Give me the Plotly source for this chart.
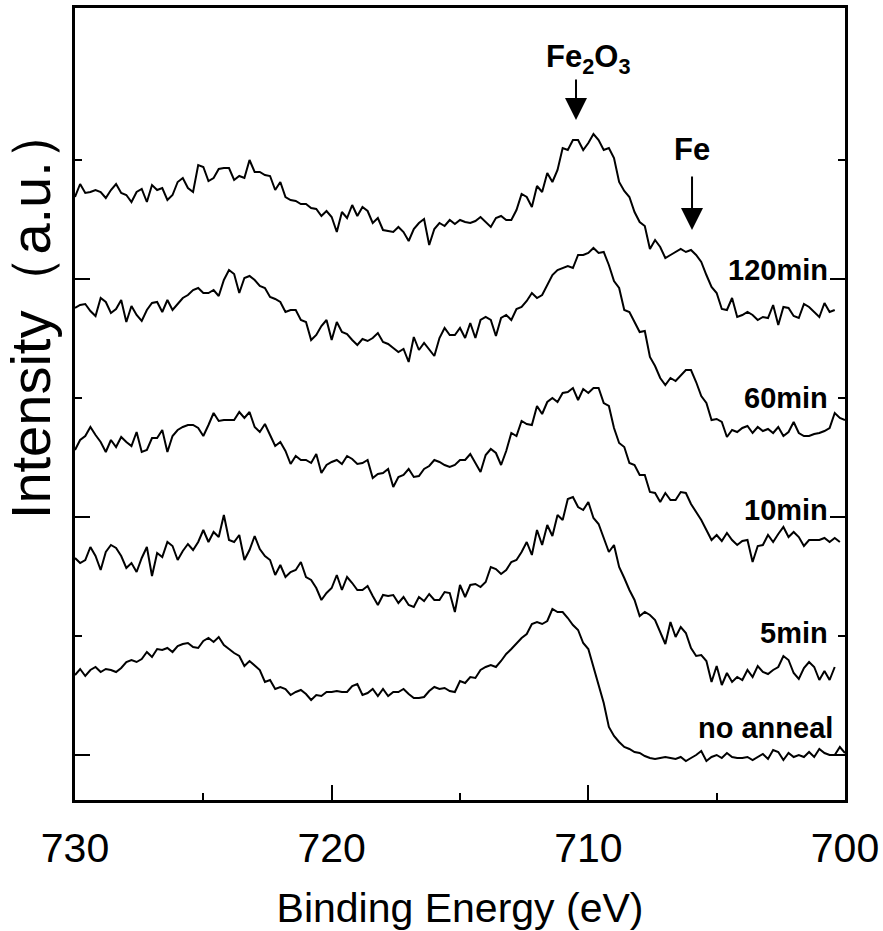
import numpy as np
import plotly.graph_objects as go

# Binding energy grid (eV), 0.2 eV steps from 730 down to 700
energy = np.round(np.arange(730.0, 699.99, -0.2), 1)

# Intensities (arbitrary units, offset-stacked as in the figure)
i_120min = [558, 571, 562, 563, 565, 563, 557, 565, 571, 562,
            560, 553, 563, 566, 553, 570, 565, 567, 555, 560,
            573, 577, 567, 563, 590, 588, 574, 577, 586, 587,
            587, 575, 579, 577, 595, 583, 583, 580, 579, 565,
            573, 558, 555, 554, 551, 551, 547, 546, 539, 544,
            538, 523, 543, 537, 550, 539, 548, 544, 532, 537,
            525, 524, 523, 528, 523, 514, 526, 532, 536, 510,
            526, 532, 529, 535, 531, 535, 533, 532, 534, 538,
            533, 528, 537, 539, 535, 535, 545, 561, 558, 548,
            569, 563, 582, 573, 585, 607, 605, 615, 615, 605,
            612, 621, 615, 605, 607, 597, 573, 564, 558, 543,
            533, 529, 506, 515, 508, 497, 500, 503, 506, 503,
            505, 500, 493, 480, 468, 462, 446, 445, 457, 438,
            440, 443, 440, 435, 438, 437, 450, 430, 448, 447,
            439, 437, 451, 448, 443, 438, 452, 443, 445]

i_60min = [447, 450, 451, 444, 439, 457, 453, 442, 446, 455,
           433, 449, 440, 434, 445, 452, 453, 443, 455, 445,
           451, 457, 460, 465, 467, 462, 462, 465, 459, 475,
           485, 481, 462, 477, 479, 475, 469, 467, 458, 456,
           453, 443, 445, 445, 435, 433, 415, 420, 429, 435,
           415, 433, 423, 421, 415, 410, 416, 414, 417, 422,
           413, 411, 407, 403, 406, 393, 418, 405, 412, 406,
           399, 417, 427, 420, 420, 427, 417, 432, 417, 435,
           438, 435, 419, 437, 440, 435, 446, 448, 454, 462,
           457, 460, 470, 480, 485, 487, 489, 487, 500, 500,
           502, 507, 502, 503, 490, 474, 467, 445, 443, 433,
           423, 424, 398, 389, 377, 370, 377, 374, 380, 385,
           385, 373, 359, 352, 335, 336, 333, 318, 325, 323,
           327, 329, 322, 328, 324, 326, 322, 328, 319, 323,
           333, 322, 319, 319, 321, 322, 324, 327, 342, 337, 335]

i_10min = [305, 315, 319, 328, 320, 313, 303, 315, 308, 318,
           313, 309, 323, 303, 305, 317, 317, 325, 303, 319,
           325, 328, 330, 330, 327, 319, 330, 342, 334, 335,
           335, 335, 343, 337, 343, 328, 323, 331, 320, 309,
           313, 304, 291, 299, 295, 295, 292, 301, 282, 290,
           293, 295, 291, 299, 296, 291, 292, 295, 277, 281,
           282, 286, 268, 278, 280, 286, 278, 279, 286, 289,
           295, 293, 290, 288, 290, 295, 295, 301, 292, 283,
           300, 306, 302, 290, 304, 322, 319, 334, 331, 330,
           349, 341, 353, 357, 353, 362, 363, 367, 355, 366,
           362, 367, 367, 352, 349, 327, 312, 308, 292, 290,
           280, 280, 263, 262, 253, 262, 255, 255, 263, 262,
           251, 243, 235, 225, 215, 220, 214, 222, 215, 210,
           214, 215, 193, 209, 210, 220, 213, 221, 228, 218,
           223, 218, 209, 215, 215, 215, 217, 213, 217, 213]

i_5min = [197, 192, 195, 208, 199, 185, 203, 210, 207, 199,
          187, 192, 183, 197, 208, 179, 202, 198, 213, 209,
          195, 204, 211, 205, 213, 225, 213, 223, 218, 240,
          215, 213, 220, 195, 205, 219, 206, 199, 195, 180,
          190, 178, 183, 185, 193, 178, 175, 167, 155, 162,
          167, 180, 165, 178, 172, 165, 165, 169, 159, 150,
          160, 159, 160, 152, 158, 150, 148, 158, 154, 161,
          155, 155, 163, 162, 143, 170, 158, 170, 171, 168,
          173, 188, 186, 181, 185, 193, 195, 203, 213, 200,
          225, 210, 230, 219, 240, 235, 256, 258, 248, 245,
          253, 237, 231, 218, 203, 210, 188, 177, 165, 155,
          139, 143, 140, 135, 123, 111, 133, 118, 128, 122,
          107, 99, 100, 94, 73, 89, 70, 82, 73, 78,
          75, 85, 78, 89, 83, 81, 85, 88, 99, 95,
          82, 76, 87, 93, 88, 75, 84, 75, 88]

i_no_anneal = [80, 86, 79, 85, 88, 83, 86, 85, 83, 87,
               93, 95, 93, 96, 103, 98, 106, 105, 107, 103,
               109, 111, 112, 108, 107, 114, 117, 113, 118, 110,
               106, 102, 99, 89, 94, 89, 85, 73, 75, 66,
               68, 66, 60, 63, 65, 61, 55, 60, 59, 63,
               63, 64, 63, 63, 69, 71, 60, 62, 66, 59,
               66, 59, 63, 63, 66, 61, 57, 57, 58, 64,
               68, 66, 67, 64, 63, 74, 72, 78, 77, 85,
               88, 90, 88, 94, 101, 106, 112, 117, 121, 131,
               133, 131, 134, 146, 143, 143, 137, 130, 125, 112,
               106, 88, 72, 52, 28, 19, 13, 8, 6, 3,
               2, -1, -3, -4, -3, -2, -3, -4, -2, -6,
               -3, 0, 4, -6, -2, 0, -3, 2, -2, -3,
               -3, -2, -5, -2, 1, -4, 5, 3, -5, 2,
               -2, 0, -2, 3, -2, 6, 2, 0, 0, 8, 2]

series = [("120min", i_120min), ("60min", i_60min), ("10min", i_10min),
          ("5min", i_5min), ("no anneal", i_no_anneal)]

# Label anchors (right end x in eV, y in a.u.)
label_names = ["120min", "60min", "10min", "5min", "no anneal"]
label_x = [700.58, 700.58, 700.58, 700.58, 700.39]
label_y = [485, 357, 245, 122, 27]

# Peak markers: label position and arrow position
peak_names = ["Fe<sub>2</sub>O<sub>3</sub>", "Fe"]
peak_text_x = [710.0, 705.96]
peak_text_y = [696, 606]
peak_arrow_x = [710.48, 705.96]
arrow_top = [677, 580]
arrow_tip = [635, 525]

x_ticks = [730, 720, 710, 700]
x_minor = [725, 715, 705]
y_ticks = [0, 238, 476]
y_minor = [119, 357, 595]

FONT = "Arial, 'Liberation Sans', sans-serif"

fig = go.Figure()
for name, vals in series:
    fig.add_trace(go.Scatter(x=energy[:len(vals)], y=vals, mode="lines", name=name,
                             line=dict(color="black", width=2)))

for t, x, y in zip(label_names, label_x, label_y):
    fig.add_annotation(x=x, y=y, text="<b>%s</b>" % t, showarrow=False,
                       xanchor="right", yanchor="middle",
                       font=dict(family=FONT, size=29, color="black"))

for t, tx, ty, axx, a0, a1 in zip(peak_names, peak_text_x, peak_text_y, peak_arrow_x,
                                   arrow_top, arrow_tip):
    fig.add_annotation(x=tx, y=ty, text="<b>%s</b>" % t, showarrow=False,
                       xanchor="center", yanchor="middle",
                       font=dict(family=FONT, size=31, color="black"))
    fig.add_annotation(x=axx, y=a1, ax=axx, ay=a0, xref="x", yref="y", axref="x", ayref="y",
                       text="", showarrow=True, arrowhead=2, arrowsize=2.2,
                       arrowwidth=2, arrowcolor="black")

# Y axis title placed as rotated text
fig.add_annotation(x=-0.0584, y=0.616, xref="paper", yref="paper",
                   text="Intensity（a.u.）", textangle=-90, showarrow=False,
                   xanchor="center", yanchor="middle",
                   font=dict(family=FONT, size=56, color="black"))

fig.update_xaxes(range=[730, 700], tickvals=x_ticks, ticktext=[str(v) for v in x_ticks],
                 ticks="inside", ticklen=15, tickwidth=2, tickcolor="black",
                 ticklabelstandoff=10,
                 showline=True, linewidth=2.5, linecolor="black", mirror=True,
                 minor=dict(tickvals=x_minor, ticks="inside", ticklen=7, tickwidth=2,
                            tickcolor="black", showgrid=False),
                 showgrid=False, zeroline=False, automargin=False,
                 tickfont=dict(family=FONT, size=41, color="black"),
                 title=dict(text="Binding Energy (eV)", standoff=24,
                            font=dict(family=FONT, size=41, color="black")))

fig.update_yaxes(range=[-45, 747], tickvals=y_ticks, showticklabels=False,
                 ticks="inside", ticklen=15, tickwidth=2, tickcolor="black",
                 showline=True, linewidth=2.5, linecolor="black", mirror="ticks",
                 minor=dict(tickvals=y_minor, ticks="inside", ticklen=7, tickwidth=2,
                            tickcolor="black", showgrid=False),
                 showgrid=False, zeroline=False, automargin=False)

fig.update_layout(width=883, height=931, margin=dict(l=75, r=38, t=8, b=131),
                  paper_bgcolor="white", plot_bgcolor="white", showlegend=False)

fig.write_html("out.html")
